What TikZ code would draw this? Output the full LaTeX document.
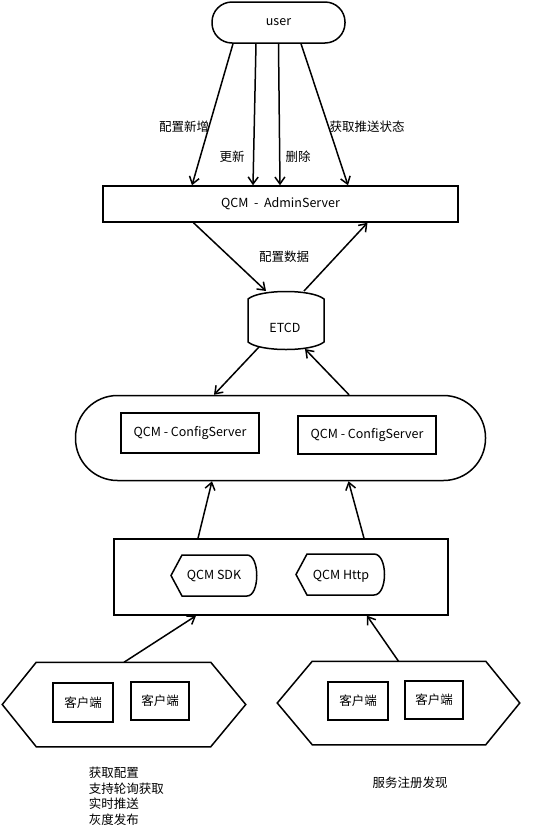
\documentclass[tikz,border=0pt]{standalone}
\usepackage{fontspec}
\setmainfont{Noto Sans CJK SC}
\usetikzlibrary{arrows.meta,calc}
\tikzset{every picture/.style={line width=1.5pt}}
\tikzset{
  arr/.style={-{Straight Barb[length=7pt,width=10pt]}},
  frame/.style={draw, inner sep=0pt},
  txt/.style={inner sep=0pt}
}

\begin{document}
\begin{tikzpicture}[x=1pt,y=1pt,yscale=-1,xscale=1,font=\fontsize{12.5}{15.5}\selectfont]
\useasboundingbox (0,0) rectangle (539,828);

%Shape: Rounded Rect [id:user] 
\node[frame, rounded corners=20pt, minimum width=133pt, minimum height=41pt] (user) at (278.5,22.5) {user};
%Shape: Rectangle [id:admin] 
\node[frame, minimum width=355pt, minimum height=36pt] (admin) at (280.5,204) {QCM\ \ -\ \ AdminServer};

%Straight Lines [id:user-admin] 
\draw[arr] ($(user.south)+(-45.5,0)$) -- ($(admin.north)+(-88.5,0)$);
\draw[arr] ($(user.south)+(-22.5,0)$) -- ($(admin.north)+(-27.5,0)$);
\draw[arr] (user.south) -- ($(admin.north)+(-0.5,0)$);
\draw[arr] ($(user.south)+(22.5,0)$) -- ($(admin.north)+(67.5,0)$);

% Text Node
\node[txt] (lnew) at (184,127) {配置新增};
% Text Node
\node[txt] (lupd) at (232,157) {更新};
% Text Node
\node[txt] (ldel) at (298,157) {删除};
% Text Node
\node[txt] (lstat) at (367,127) {获取推送状态};

%Shape: Barrel [id:etcd] 
\node[txt] (etcd) at (285,328) {ETCD};
\draw ($(etcd)+(-37,-29)$) .. controls ($(etcd)+(-25,-39)$) and ($(etcd)+(27,-39)$) .. ($(etcd)+(39,-29)$)
  -- ($(etcd)+(39,14)$) .. controls ($(etcd)+(27,24)$) and ($(etcd)+(-25,24)$) .. ($(etcd)+(-37,14)$) -- cycle;

%Straight Lines [id:admin-etcd] 
\draw[arr] ($(admin.south)+(-87,0)$) -- ($(etcd)+(-19,-37)$);
\draw[arr] ($(etcd)+(19,-37)$) -- ($(admin.south)+(87,0)$);
% Text Node
\node[txt] (ldata) at (284,257) {配置数据};

%Shape: Stadium [id:cfg] 
\node[frame, rounded corners=42pt, minimum width=410pt, minimum height=85pt] (cfg) at (280.5,438) {};
%Shape: Rectangle [id:cs1] 
\node[frame, minimum width=138pt, minimum height=40pt] (cs1) at (190,433) {QCM - ConfigServer};
%Shape: Rectangle [id:cs2] 
\node[frame, minimum width=138pt, minimum height=38pt] (cs2) at (367,435) {QCM - ConfigServer};

%Straight Lines [id:etcd-cfg] 
\draw[arr] ($(etcd)+(-26,19)$) -- ($(cfg.north)+(-66.5,0)$);
\draw[arr] ($(cfg.north)+(68.5,0)$) -- ($(etcd)+(20,21)$);

%Shape: Rectangle [id:client] 
\node[frame, minimum width=334pt, minimum height=76pt] (client) at (281,577) {};

%Straight Lines [id:client-cfg] 
\draw[arr] ($(client.north)+(-83,0)$) -- ($(cfg.south)+(-68.5,0)$);
\draw[arr] ($(client.north)+(83,0)$) -- ($(cfg.south)+(68,0)$);

%Shape: Display [id:sdk] 
\node[txt] (sdk) at (214,576) {QCM SDK};
\draw ($(sdk)+(-43,-0.5)$) -- ($(sdk)+(-32,-21)$) -- ($(sdk)+(33,-21)$)
  .. controls ($(sdk)+(46,-21)$) and ($(sdk)+(46,20)$) .. ($(sdk)+(33,20)$) -- ($(sdk)+(-32,20)$) -- cycle;
%Shape: Display [id:http] 
\node[txt] (http) at (341,576) {QCM Http};
\draw ($(http)+(-45,-1.5)$) -- ($(http)+(-34,-22)$) -- ($(http)+(33,-22)$)
  .. controls ($(http)+(47,-22)$) and ($(http)+(47,19)$) .. ($(http)+(33,19)$) -- ($(http)+(-34,19)$) -- cycle;

%Shape: Hexagon [id:hexL] 
\node[inner sep=0pt, minimum width=242pt, minimum height=83pt] (hexL) at (124,704.5) {};
\draw (hexL.west) -- ($(hexL.north west)+(34,0)$) -- ($(hexL.north east)+(-35,0)$) -- (hexL.east)
  -- ($(hexL.south east)+(-35,0)$) -- ($(hexL.south west)+(34,0)$) -- cycle;
%Shape: Hexagon [id:hexR] 
\node[inner sep=0pt, minimum width=241pt, minimum height=82pt] (hexR) at (398.5,703) {};
\draw (hexR.west) -- ($(hexR.north west)+(35,0)$) -- ($(hexR.north east)+(-34,0)$) -- (hexR.east)
  -- ($(hexR.south east)+(-34,0)$) -- ($(hexR.south west)+(35,0)$) -- cycle;

%Shape: Rectangle [id:c1..c4] 
\node[frame, minimum width=60pt, minimum height=39pt] (c1) at (83,702.5) {客户端};
\node[frame, minimum width=58pt, minimum height=38pt] (c2) at (160,701) {客户端};
\node[frame, minimum width=60pt, minimum height=38pt] (c3) at (358,701) {客户端};
\node[frame, minimum width=58pt, minimum height=38pt] (c4) at (434,700) {客户端};

%Straight Lines [id:hex-client] 
\draw[arr] (hexL.north) -- ($(client.south)+(-85,0)$);
\draw[arr] (hexR.north) -- ($(client.south)+(86,0)$);

% Text Node
\node[txt, align=left, anchor=west] (feat) at (88,796.5) {获取配置\\支持轮询获取\\实时推送\\灰度发布};
% Text Node
\node[txt] (reg) at (410,783) {服务注册发现};

\end{tikzpicture}
\end{document}
